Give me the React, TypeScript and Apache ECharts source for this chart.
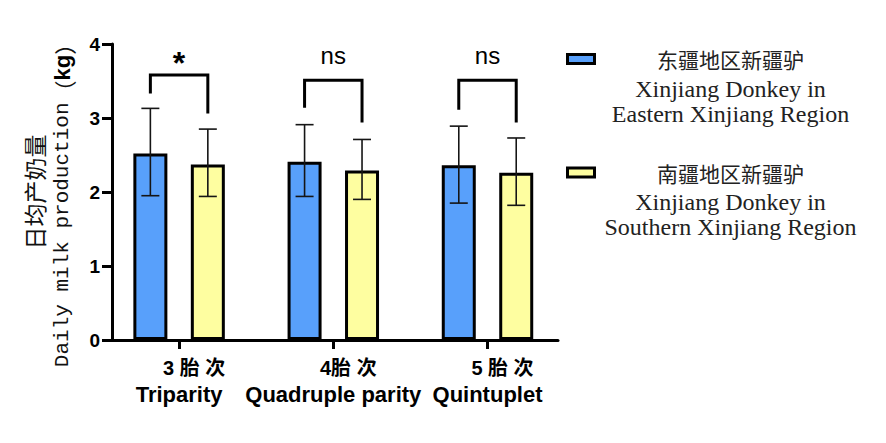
import React, { useEffect, useRef } from 'react';
import * as echarts from 'echarts';

// ---- data ----
const categoriesCn = ['3 胎 次', '4胎 次', '5 胎 次'];
const categoriesEn = ['Triparity', 'Quadruple parity', 'Quintuplet'];
const seriesNames = ['东疆地区新疆驴', '南疆地区新疆驴'];
const seriesNamesEn = [
  ['Xinjiang Donkey in', 'Eastern Xinjiang Region'],
  ['Xinjiang Donkey in', 'Southern Xinjiang Region'],
];
const eastMean = [2.52, 2.41, 2.36];
const eastLow = [1.95, 1.94, 1.85];
const eastHigh = [3.13, 2.91, 2.89];
const southMean = [2.37, 2.29, 2.26];
const southLow = [1.94, 1.9, 1.82];
const southHigh = [2.85, 2.71, 2.73];
const sigLabels = ['*', 'ns', 'ns'];
const bracketLeftEnd = [3.33, 3.14, 3.11];
const bracketRightEnd = [3.06, 2.94, 2.94];
const bracketTop = [3.58, 3.51, 3.51];
const sigLabelPos = [3.74, 3.84, 3.84];
const yMin = 0;
const yMax = 4;
const yStep = 1;

// ---- style constants ----
const W = 886;
const H = 443;
const AXIS_LEFT = 112;
const AXIS_RIGHT = 558;
const PLOT_TOP = 44;
const AXIS_BOTTOM = 340;
const BAND_LEFT = 102;
const BAND_WIDTH_TOTAL = 462.6;
const BAR_WIDTH = 34;
const BAR_GAP = 0.69;
const OFF = (BAR_WIDTH * (1 + BAR_GAP)) / 2;
const BLUE = '#58a0fb';
const YELLOW = '#fefea0';
const LEGEND_TOPS = [48.5, 162];

export default function App() {
  const ref = useRef<HTMLDivElement>(null);
  useEffect(() => {
    document.body.style.margin = '0';
    const chart = echarts.init(ref.current!, undefined, { renderer: 'svg' });

    const errStyle = { stroke: '#151515', lineWidth: 1.6 };
    const makeErr = (sign: number) => (params: any, api: any) => {
      const i = api.value(0);
      const lo = api.coord([i, api.value(1)]);
      const hi = api.coord([i, api.value(2)]);
      const x = lo[0] + sign * OFF;
      return {
        type: 'group',
        children: [
          { type: 'line', shape: { x1: x, y1: lo[1], x2: x, y2: hi[1] }, style: errStyle },
          { type: 'line', shape: { x1: x - 9, y1: hi[1], x2: x + 9, y2: hi[1] }, style: errStyle },
          { type: 'line', shape: { x1: x - 9, y1: lo[1], x2: x + 9, y2: lo[1] }, style: errStyle },
        ],
      };
    };

    const legendRich = {
      cn: { fontFamily: 'Noto Sans CJK SC', fontSize: 21, lineHeight: 34, align: 'center', color: '#222' },
      en: { fontFamily: 'Liberation Serif', fontSize: 24, lineHeight: 25, align: 'center', color: '#222' },
    };

    const option: any = {
      animation: false,
      backgroundColor: '#fff',
      textStyle: { fontFamily: 'Liberation Sans' },
      grid: [
        { left: AXIS_LEFT, top: PLOT_TOP, width: AXIS_RIGHT - AXIS_LEFT, height: AXIS_BOTTOM - PLOT_TOP },
        { left: BAND_LEFT, top: PLOT_TOP, width: BAND_WIDTH_TOTAL, height: AXIS_BOTTOM - PLOT_TOP },
      ],
      legend: [0, 1].map((k) => ({
        data: [seriesNames[k]],
        orient: 'vertical',
        left: 566,
        top: LEGEND_TOPS[k],
        padding: 0,
        itemWidth: 27,
        itemHeight: 9,
        icon: 'rect',
        selectedMode: false,
        itemStyle: { borderColor: '#000', borderWidth: 3 },
        formatter: (name: string) =>
          `{cn|${name}}\n{en|${seriesNamesEn[k][0]}}\n{en|${seriesNamesEn[k][1]}}`,
        textStyle: { width: 262, padding: [50, 0, 0, 0], rich: legendRich },
      })),
      xAxis: [
        {
          gridIndex: 0,
          type: 'value',
          min: 0,
          max: 1,
          axisLine: { show: true, lineStyle: { color: '#000', width: 3 } },
          axisTick: { show: false },
          axisLabel: { show: false },
          splitLine: { show: false },
        },
        {
          gridIndex: 1,
          type: 'category',
          data: categoriesEn,
          axisLine: { show: false },
          axisTick: { show: true, alignWithLabel: true, length: 9, lineStyle: { color: '#000', width: 3 } },
          axisLabel: {
            interval: 0,
            margin: 15,
            formatter: (v: string, i: number) => `{cn|${categoriesCn[i]}}\n{en|${v}}`,
            rich: {
              cn: {
                fontFamily: 'Liberation Sans, Noto Sans CJK SC',
                fontWeight: 'bold',
                fontSize: 20,
                lineHeight: 26,
                padding: [0, 0, 0, 30],
                align: 'center',
                color: '#000',
              },
              en: {
                fontFamily: 'Liberation Sans',
                fontWeight: 'bold',
                fontSize: 22,
                lineHeight: 26,
                align: 'center',
                color: '#000',
              },
            },
          },
        },
      ],
      yAxis: [
        {
          gridIndex: 0,
          type: 'value',
          min: yMin,
          max: yMax,
          interval: yStep,
          axisLine: { show: true, lineStyle: { color: '#000', width: 3 } },
          axisTick: { show: true, length: 10, lineStyle: { color: '#000', width: 3 } },
          axisLabel: { margin: 12, fontSize: 19, fontWeight: 'bold', color: '#000', fontFamily: 'Liberation Sans' },
          splitLine: { show: false },
          name: '{cn|日均产奶量}\n{en|Daily milk production}{p|（}{kg|kg}{p2|）}',
          nameLocation: 'middle',
          nameGap: 35,
          nameRotate: 90,
          nameTextStyle: {
            rich: {
              cn: { fontFamily: 'Noto Sans CJK SC', fontSize: 23, lineHeight: 29, align: 'center', color: '#111' },
              en: { fontFamily: 'Liberation Mono', fontSize: 21, lineHeight: 29, align: 'center', color: '#111' },
              p: { fontFamily: 'Noto Sans CJK SC', fontSize: 22, lineHeight: 29, color: '#111' },
              p2: { fontFamily: 'Noto Sans CJK SC', fontSize: 22, lineHeight: 29, color: '#111', padding: [0, 16, 0, 0] },
              kg: { fontFamily: 'Liberation Sans', fontWeight: 'bold', fontSize: 22, lineHeight: 29, color: '#000' },
            },
          },
        },
        { gridIndex: 1, type: 'value', min: yMin, max: yMax, interval: yStep, show: false },
      ],
      series: [
        {
          name: seriesNames[0],
          type: 'bar',
          xAxisIndex: 1,
          yAxisIndex: 1,
          data: eastMean,
          barWidth: BAR_WIDTH,
          barGap: `${BAR_GAP * 100}%`,
          itemStyle: { color: BLUE, borderColor: '#000', borderWidth: 3 },
        },
        {
          name: seriesNames[1],
          type: 'bar',
          xAxisIndex: 1,
          yAxisIndex: 1,
          data: southMean,
          barWidth: BAR_WIDTH,
          barGap: `${BAR_GAP * 100}%`,
          itemStyle: { color: YELLOW, borderColor: '#000', borderWidth: 3 },
        },
        {
          type: 'custom',
          xAxisIndex: 1,
          yAxisIndex: 1,
          z: 5,
          encode: { x: 0, y: [1, 2] },
          data: eastLow.map((l, i) => [i, l, eastHigh[i]]),
          renderItem: makeErr(-1),
        },
        {
          type: 'custom',
          xAxisIndex: 1,
          yAxisIndex: 1,
          z: 5,
          encode: { x: 0, y: [1, 2] },
          data: southLow.map((l, i) => [i, l, southHigh[i]]),
          renderItem: makeErr(1),
        },
        {
          type: 'custom',
          xAxisIndex: 1,
          yAxisIndex: 1,
          z: 6,
          encode: { x: 0, y: [1, 2, 3, 4] },
          data: bracketTop.map((t, i) => [i, bracketLeftEnd[i], bracketRightEnd[i], t, sigLabelPos[i]]),
          renderItem: (params: any, api: any) => {
            const i = api.value(0);
            const lb = api.coord([i, api.value(1)]);
            const rb = api.coord([i, api.value(2)]);
            const tp = api.coord([i, api.value(3)]);
            const lp = api.coord([i, api.value(4)]);
            const xl = lb[0] - OFF;
            const xr = lb[0] + OFF;
            const label = sigLabels[params.dataIndex];
            const isStar = label === '*';
            return {
              type: 'group',
              children: [
                {
                  type: 'polyline',
                  shape: { points: [[xl, lb[1]], [xl, tp[1]], [xr, tp[1]], [xr, rb[1]]] },
                  style: { stroke: '#000', lineWidth: 3, fill: null, lineJoin: 'miter' },
                },
                {
                  type: 'text',
                  style: {
                    text: label,
                    x: lb[0],
                    y: lp[1],
                    align: 'center',
                    verticalAlign: 'middle',
                    fontFamily: 'Liberation Sans',
                    fontSize: isStar ? 32 : 24,
                    fontWeight: isStar ? 'bold' : 'normal',
                    fill: '#000',
                  },
                },
              ],
            };
          },
        },
      ],
    };
    chart.setOption(option);
    return () => chart.dispose();
  }, []);
  return <div ref={ref} style={{ position: 'absolute', left: 0, top: 0, width: W, height: H }} />;
}
